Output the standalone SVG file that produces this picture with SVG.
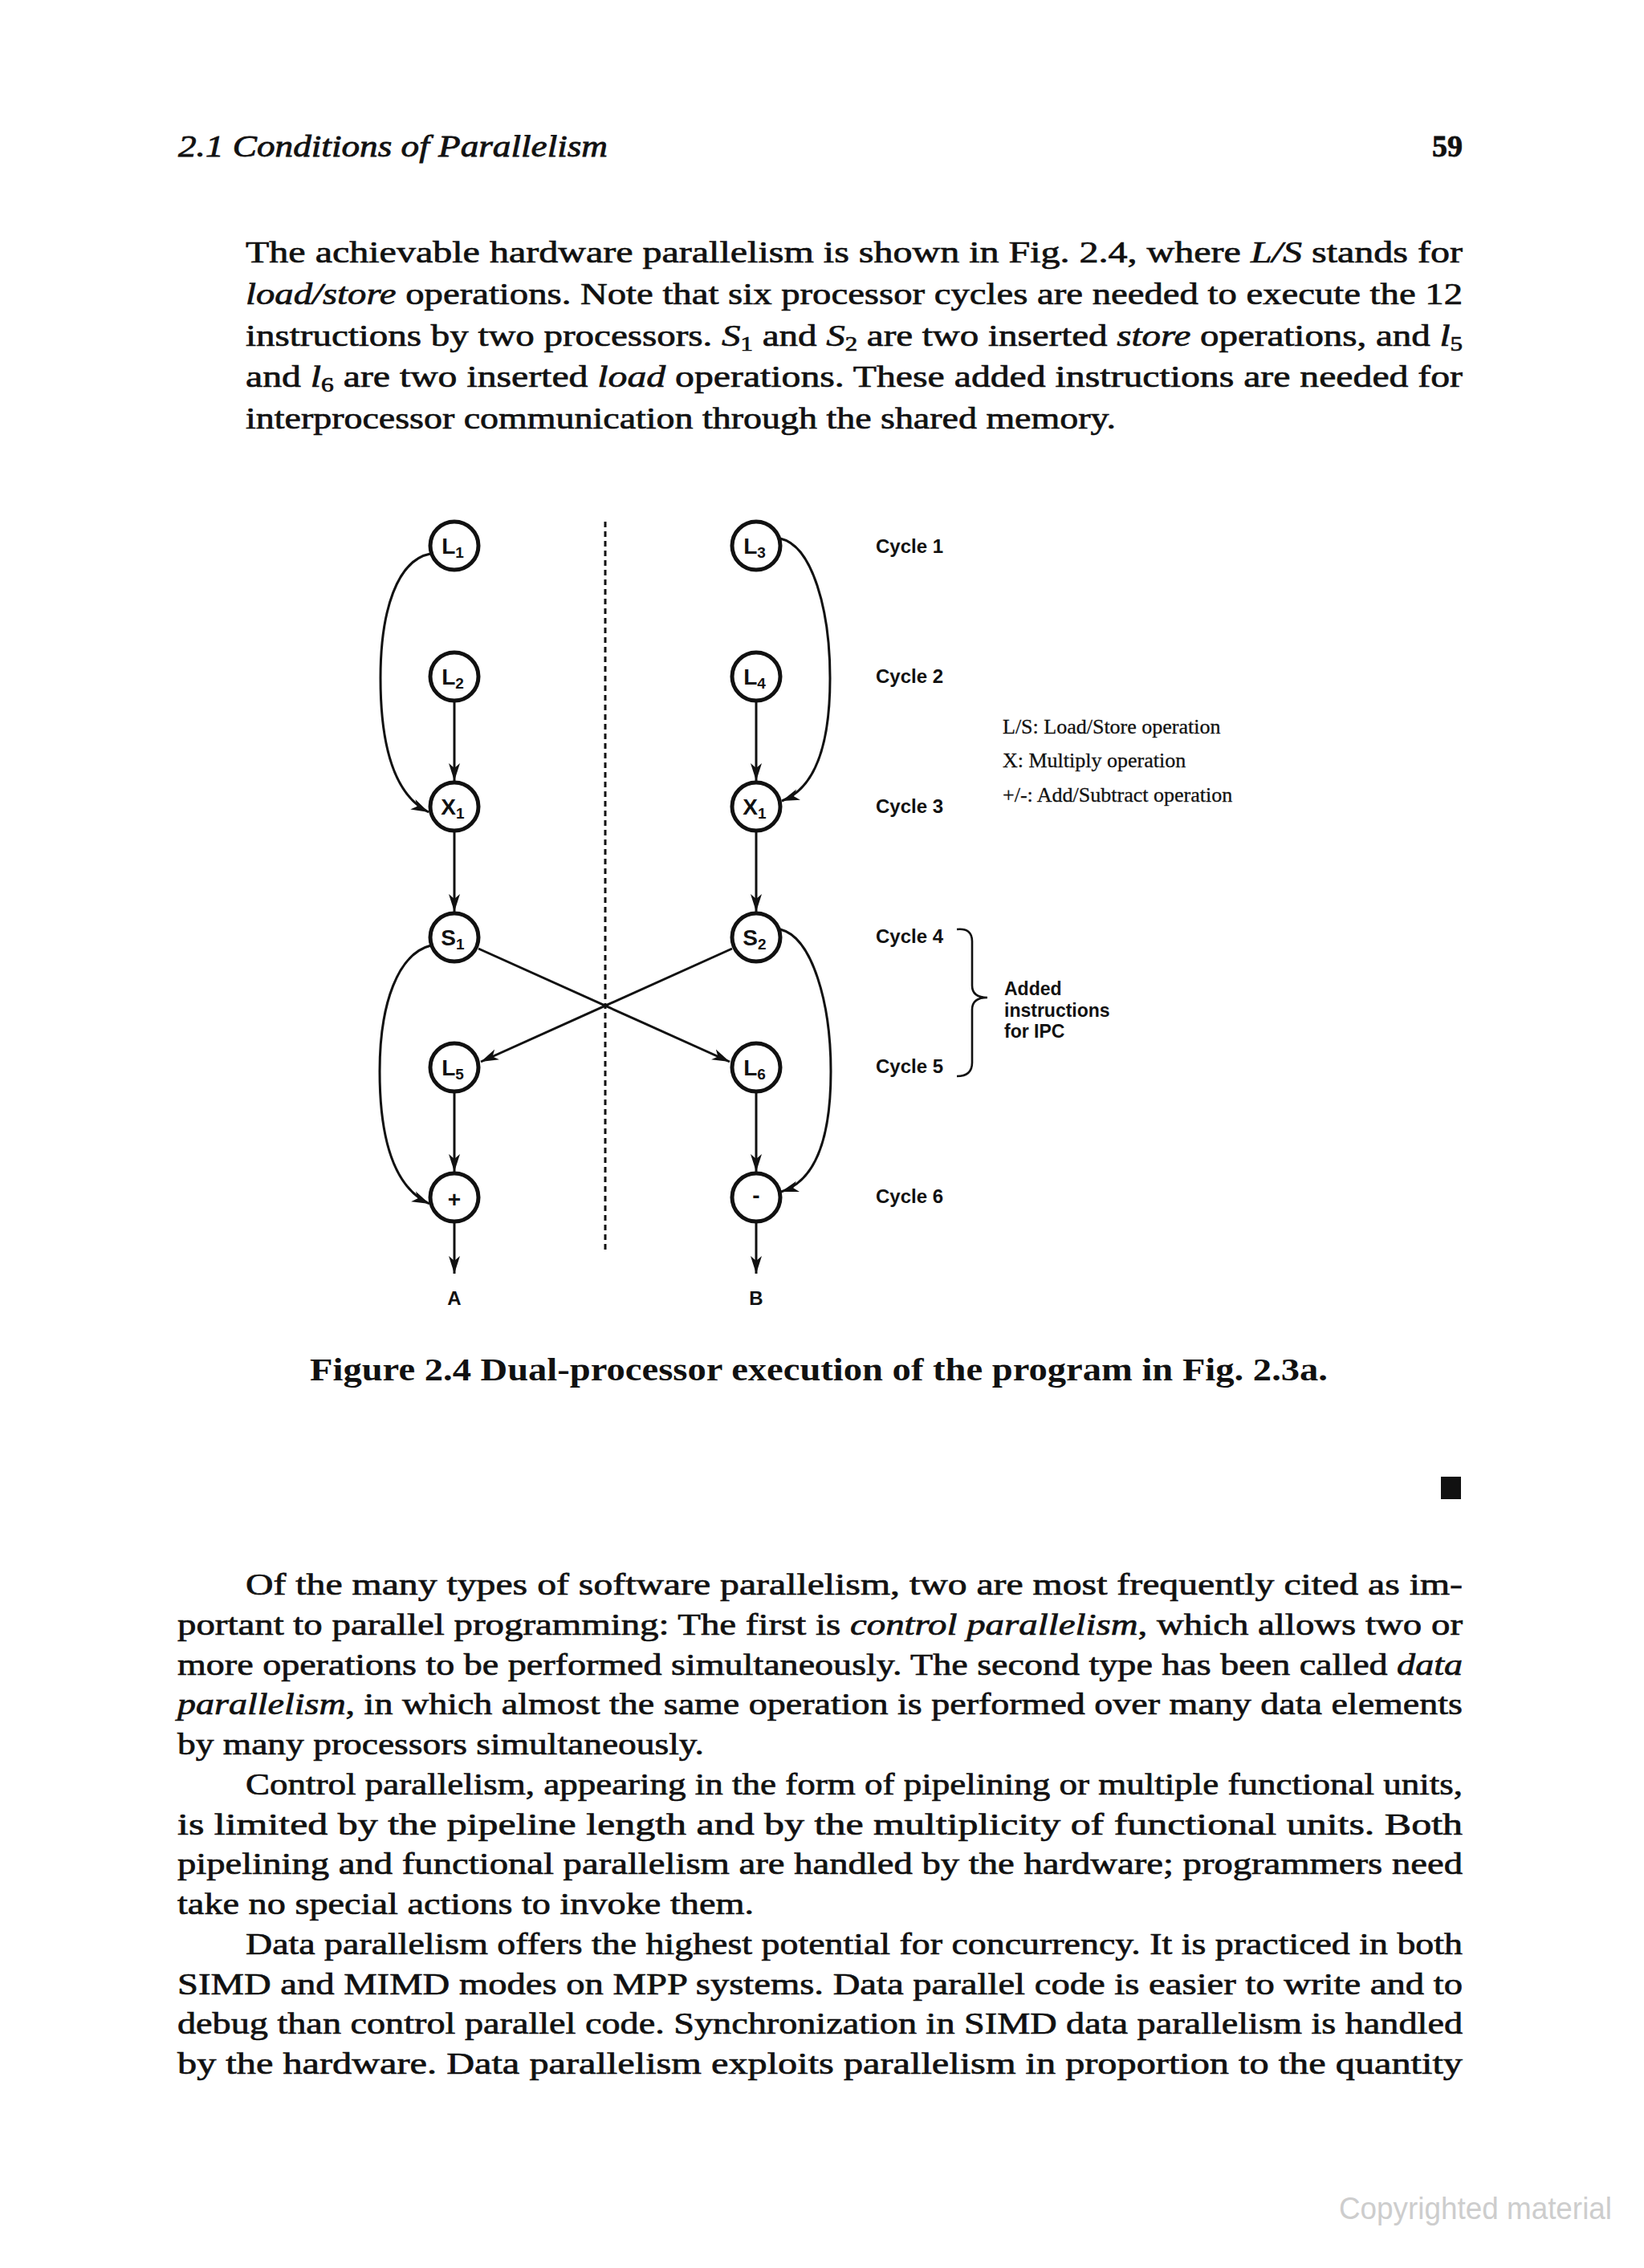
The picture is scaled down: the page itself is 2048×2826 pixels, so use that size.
<svg xmlns="http://www.w3.org/2000/svg" width="2048" height="2826" viewBox="0 0 2048 2826">
<defs>
<style>
.body{font-family:"Liberation Serif","Times New Roman",serif;font-size:38px;fill:#111;stroke:#111;stroke-width:0.7}
.it{font-style:italic}
.sub{font-size:25px}
.hdr{font-family:"Liberation Serif","Times New Roman",serif;font-size:38px;fill:#111;stroke:#111;stroke-width:0.8}
.cap{font-family:"Liberation Serif","Times New Roman",serif;font-size:40px;font-weight:bold;fill:#111}
.node circle{fill:#fff;stroke:#111;stroke-width:5}
.lbl{font-family:"Liberation Sans",Arial,sans-serif;font-size:28px;font-weight:bold;fill:#111;text-anchor:middle}
.lsub{font-size:19px}
.cyc{font-family:"Liberation Sans",Arial,sans-serif;font-size:24px;font-weight:bold;fill:#111}
.leg{font-family:"Liberation Serif","Times New Roman",serif;font-size:26px;fill:#111;stroke:#111;stroke-width:0.3}
.ipc{font-family:"Liberation Sans",Arial,sans-serif;font-size:23px;font-weight:bold;fill:#111}
.out{font-family:"Liberation Sans",Arial,sans-serif;font-size:24px;font-weight:bold;fill:#111;text-anchor:middle}
.edge{fill:none;stroke:#111;stroke-width:3;marker-end:url(#arr)}
</style>
<marker id="arr" markerUnits="userSpaceOnUse" markerWidth="24" markerHeight="16" refX="22" refY="8" orient="auto" viewBox="0 0 24 16">
<path d="M0,1 L22,8 L0,15 L6,8 Z" fill="#111"/>
</marker>
</defs>
<rect width="2048" height="2826" fill="#fff"/>

<!-- header -->
<text class="hdr it" x="222" y="195" textLength="535" lengthAdjust="spacingAndGlyphs">2.1 Conditions of Parallelism</text>
<text class="hdr" x="1822" y="195" text-anchor="end" font-weight="bold">59</text>

<!-- top paragraph -->
<text class="body" x="306" y="327" textLength="1516" lengthAdjust="spacingAndGlyphs">The achievable hardware parallelism is shown in Fig. 2.4, where <tspan class="it">L/S</tspan> stands for</text>
<text class="body" x="306" y="379" textLength="1516" lengthAdjust="spacingAndGlyphs"><tspan class="it">load/store</tspan> operations. Note that six processor cycles are needed to execute the 12</text>
<text class="body" x="306" y="431" textLength="1516" lengthAdjust="spacingAndGlyphs">instructions by two processors. <tspan class="it">S</tspan><tspan class="sub" dy="6">1</tspan><tspan dy="-6"> and </tspan><tspan class="it">S</tspan><tspan class="sub" dy="6">2</tspan><tspan dy="-6"> are two inserted </tspan><tspan class="it">store</tspan> operations, and <tspan class="it">l</tspan><tspan class="sub" dy="6">5</tspan></text>
<text class="body" x="306" y="482" textLength="1516" lengthAdjust="spacingAndGlyphs">and <tspan class="it">l</tspan><tspan class="sub" dy="6">6</tspan><tspan dy="-6"> are two inserted </tspan><tspan class="it">load</tspan> operations. These added instructions are needed for</text>
<text class="body" x="306" y="534" textLength="1084" lengthAdjust="spacingAndGlyphs">interprocessor communication through the shared memory.</text>

<!-- figure -->
<g id="divider">
<line x1="754" y1="650" x2="754" y2="1562" stroke="#111" stroke-width="3" stroke-dasharray="7 5"/>
</g>

<g id="connectors">
<path class="edge" d="M536,690 C495,698 474,760 474,845 C474,945 498,994 534,1012"/>
<path class="edge" d="M566,875 L566,973"/>
<path class="edge" d="M972,671 C1012,680 1034,760 1034,845 C1034,945 1008,985 974,998"/>
<path class="edge" d="M942,875 L942,973"/>
<path class="edge" d="M566,1037 L566,1136"/>
<path class="edge" d="M942,1037 L942,1136"/>
<path class="edge" d="M596,1182 L909,1323"/>
<path class="edge" d="M912,1182 L599,1323"/>
<path class="edge" d="M537,1178 C496,1188 473,1250 473,1335 C473,1435 498,1483 535,1500"/>
<path class="edge" d="M972,1158 C1012,1168 1035,1250 1035,1335 C1035,1435 1008,1474 973,1485"/>
<path class="edge" d="M566,1362 L566,1460"/>
<path class="edge" d="M942,1362 L942,1460"/>
<path class="edge" d="M566,1524 L566,1587"/>
<path class="edge" d="M942,1524 L942,1587"/>
</g>

<g id="node-L1" class="node"><circle cx="566" cy="680" r="30"/><text class="lbl" x="564" y="690">L<tspan class="lsub" dy="5">1</tspan></text></g>
<g id="node-L2" class="node"><circle cx="566" cy="843" r="30"/><text class="lbl" x="564" y="853">L<tspan class="lsub" dy="5">2</tspan></text></g>
<g id="node-X1a" class="node"><circle cx="566" cy="1005" r="30"/><text class="lbl" x="564" y="1015">X<tspan class="lsub" dy="5">1</tspan></text></g>
<g id="node-S1" class="node"><circle cx="566" cy="1168" r="30"/><text class="lbl" x="564" y="1178">S<tspan class="lsub" dy="5">1</tspan></text></g>
<g id="node-L5" class="node"><circle cx="566" cy="1330" r="30"/><text class="lbl" x="564" y="1340">L<tspan class="lsub" dy="5">5</tspan></text></g>
<g id="node-add" class="node"><circle cx="566" cy="1492" r="30"/><text class="lbl" x="566" y="1504" font-size="34">+</text></g>

<g id="node-L3" class="node"><circle cx="942" cy="680" r="30"/><text class="lbl" x="940" y="690">L<tspan class="lsub" dy="5">3</tspan></text></g>
<g id="node-L4" class="node"><circle cx="942" cy="843" r="30"/><text class="lbl" x="940" y="853">L<tspan class="lsub" dy="5">4</tspan></text></g>
<g id="node-X1b" class="node"><circle cx="942" cy="1005" r="30"/><text class="lbl" x="940" y="1015">X<tspan class="lsub" dy="5">1</tspan></text></g>
<g id="node-S2" class="node"><circle cx="942" cy="1168" r="30"/><text class="lbl" x="940" y="1178">S<tspan class="lsub" dy="5">2</tspan></text></g>
<g id="node-L6" class="node"><circle cx="942" cy="1330" r="30"/><text class="lbl" x="940" y="1340">L<tspan class="lsub" dy="5">6</tspan></text></g>
<g id="node-sub" class="node"><circle cx="942" cy="1492" r="30"/><text class="lbl" x="942" y="1499" font-size="32">-</text></g>

<g id="outputs">
<text class="out" x="566" y="1626">A</text>
<text class="out" x="942" y="1626">B</text>
</g>

<g id="cycles">
<text class="cyc" x="1091" y="689">Cycle 1</text>
<text class="cyc" x="1091" y="851">Cycle 2</text>
<text class="cyc" x="1091" y="1013">Cycle 3</text>
<text class="cyc" x="1091" y="1175">Cycle 4</text>
<text class="cyc" x="1091" y="1337">Cycle 5</text>
<text class="cyc" x="1091" y="1499">Cycle 6</text>
</g>

<g id="legend">
<text class="leg" x="1249" y="914">L/S: Load/Store operation</text>
<text class="leg" x="1249" y="956">X: Multiply operation</text>
<text class="leg" x="1249" y="999">+/-: Add/Subtract operation</text>
</g>

<g id="ipc-brace">
<path d="M1192,1158 Q1211,1156 1211,1173 L1211,1228 Q1211,1243 1230,1243 Q1211,1243 1211,1258 L1211,1324 Q1211,1341 1192,1341" fill="none" stroke="#111" stroke-width="2.6"/>
<text class="ipc" x="1251" y="1240">Added</text>
<text class="ipc" x="1251" y="1267">instructions</text>
<text class="ipc" x="1251" y="1293">for IPC</text>
</g>

<!-- caption -->
<text class="cap" x="386" y="1720" textLength="1268" lengthAdjust="spacingAndGlyphs">Figure 2.4 Dual-processor execution of the program in Fig. 2.3a.</text>

<rect x="1795" y="1840" width="25" height="28" fill="#111"/>

<!-- body paragraphs -->
<text class="body" x="306" y="1987" textLength="1516" lengthAdjust="spacingAndGlyphs">Of the many types of software parallelism, two are most frequently cited as im-</text>
<text class="body" x="221" y="2037" textLength="1601" lengthAdjust="spacingAndGlyphs">portant to parallel programming: The first is <tspan class="it">control parallelism</tspan>, which allows two or</text>
<text class="body" x="221" y="2087" textLength="1601" lengthAdjust="spacingAndGlyphs">more operations to be performed simultaneously. The second type has been called <tspan class="it">data</tspan></text>
<text class="body" x="221" y="2136" textLength="1601" lengthAdjust="spacingAndGlyphs"><tspan class="it">parallelism</tspan>, in which almost the same operation is performed over many data elements</text>
<text class="body" x="221" y="2186" textLength="656" lengthAdjust="spacingAndGlyphs">by many processors simultaneously.</text>
<text class="body" x="306" y="2236" textLength="1516" lengthAdjust="spacingAndGlyphs">Control parallelism, appearing in the form of pipelining or multiple functional units,</text>
<text class="body" x="221" y="2286" textLength="1601" lengthAdjust="spacingAndGlyphs">is limited by the pipeline length and by the multiplicity of functional units.  Both</text>
<text class="body" x="221" y="2335" textLength="1601" lengthAdjust="spacingAndGlyphs">pipelining and functional parallelism are handled by the hardware; programmers need</text>
<text class="body" x="221" y="2385" textLength="718" lengthAdjust="spacingAndGlyphs">take no special actions to invoke them.</text>
<text class="body" x="306" y="2435" textLength="1516" lengthAdjust="spacingAndGlyphs">Data parallelism offers the highest potential for concurrency. It is practiced in both</text>
<text class="body" x="221" y="2485" textLength="1601" lengthAdjust="spacingAndGlyphs">SIMD and MIMD modes on MPP systems. Data parallel code is easier to write and to</text>
<text class="body" x="221" y="2534" textLength="1601" lengthAdjust="spacingAndGlyphs">debug than control parallel code. Synchronization in SIMD data parallelism is handled</text>
<text class="body" x="221" y="2584" textLength="1601" lengthAdjust="spacingAndGlyphs">by the hardware.  Data parallelism exploits parallelism in proportion to the quantity</text>

<text x="1668" y="2765" font-family="Liberation Sans, Arial, sans-serif" font-size="38" fill="#cdcdcd" textLength="340" lengthAdjust="spacingAndGlyphs">Copyrighted material</text>
</svg>
